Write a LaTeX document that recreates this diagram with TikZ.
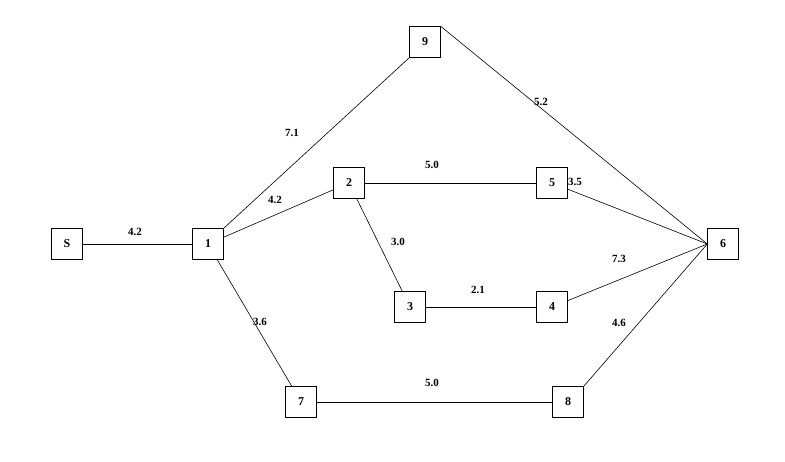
\documentclass[tikz,border=0pt]{standalone}
\usepackage{fontspec}
\setmainfont{Liberation Serif}
\begin{document}
\begin{tikzpicture}[x=1pt,y=-1pt,
  box/.style={draw,minimum width=31pt,minimum height=31pt,inner sep=0pt,font=\fontsize{12}{14}\selectfont\bfseries},
  lbl/.style={font=\fontsize{11}{13}\selectfont\bfseries},
  edge/.style={draw,line width=0.6pt}]
\useasboundingbox (0,0) rectangle (785,461);
\node[box] (s) at (67,244) {S};
\node[box] (n1) at (208,244) {1};
\node[box] (n9) at (425,42) {9};
\node[box] (n2) at (349,183) {2};
\node[box] (n5) at (552,183) {5};
\node[box] (n3) at (410,307) {3};
\node[box] (n4) at (552,307) {4};
\node[box] (n6) at (723,244) {6};
\node[box] (n7) at (301,402) {7};
\node[box] (n8) at (568,402) {8};
\draw[edge] (s) -- (n1);
\draw[edge] (n1.north east) -- (n9.south west);
\draw[edge] (n1) -- (n2);
\draw[edge] (n1) -- (n7);
\draw[edge] (n2) -- (n5);
\draw[edge] (n2) -- (n3);
\draw[edge] (n3) -- (n4);
\draw[edge] (n7) -- (n8);
\draw[edge] (n9.north east) -- (n6.west);
\draw[edge] (n5) -- (n6.west);
\draw[edge] (n4) -- (n6.west);
\draw[edge] (n8.north east) -- (n6.west);
\node[lbl] (l1) at (135,232) {4.2};
\node[lbl] (l2) at (292,133) {7.1};
\node[lbl] (l3) at (275,200) {4.2};
\node[lbl] (l4) at (432,165) {5.0};
\node[lbl] (l5) at (398,242) {3.0};
\node[lbl] (l6) at (478,290) {2.1};
\node[lbl] (l7) at (260,322) {3.6};
\node[lbl] (l8) at (432,383) {5.0};
\node[lbl] (l9) at (541,102) {5.2};
\node[lbl] (l10) at (575,182) {3.5};
\node[lbl] (l11) at (619,259) {7.3};
\node[lbl] (l12) at (619,323) {4.6};
\end{tikzpicture}
\end{document}
